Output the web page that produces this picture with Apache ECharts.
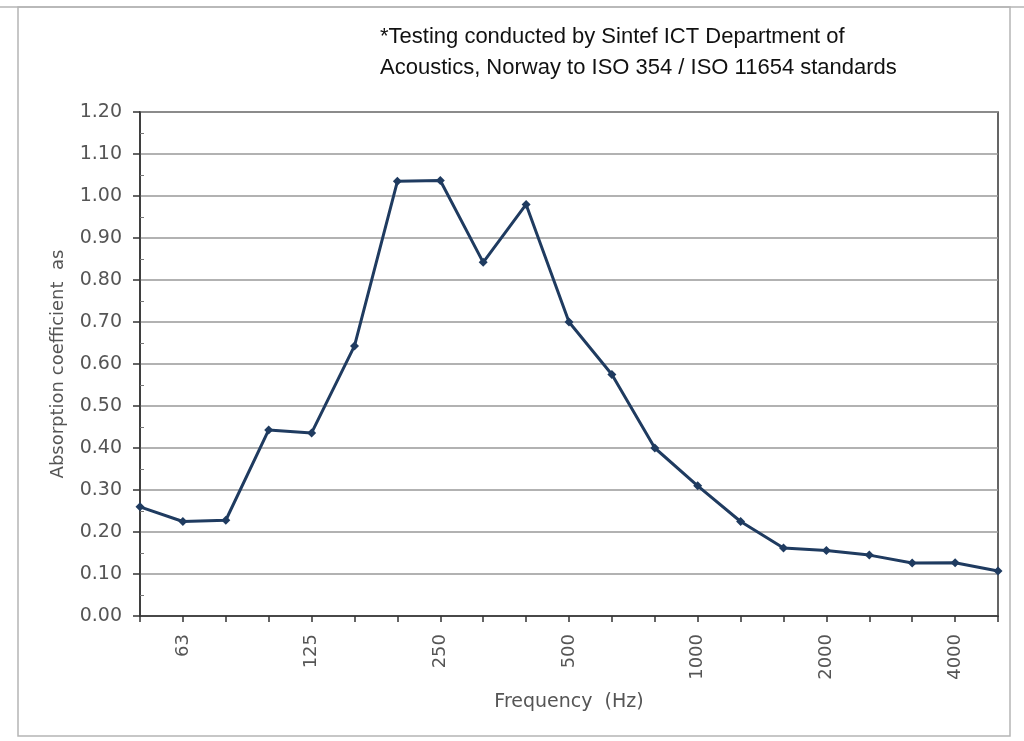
<!DOCTYPE html>
<html>
<head>
<meta charset="utf-8">
<script src="https://cdn.jsdelivr.net/npm/echarts@6/dist/echarts.min.js"></script>
<style>
  html, body { margin: 0; padding: 0; background: #fff; }
  #main { width: 1024px; height: 741px; }
</style>
</head>
<body>
<div id="main"></div>
<script>
// third-octave band centre frequencies (Hz)
var frequencies = ['50', '63', '80', '100', '125', '160', '200', '250', '315', '400', '500',
    '630', '800', '1000', '1250', '1600', '2000', '2500', '3150', '4000', '5000'];

// absorption coefficient
var absorption = [0.26, 0.225, 0.228, 0.443, 0.436, 0.643, 1.035, 1.037, 0.842, 0.98, 0.70,
    0.575, 0.40, 0.31, 0.225, 0.162, 0.156, 0.145, 0.126, 0.127, 0.107];

// which bands get a label on the axis
var shownLabels = ['63', '125', '250', '500', '1000', '2000', '4000'];

var noteLines = ['*Testing conducted by Sintef ICT Department of',
    'Acoustics, Norway to ISO 354 / ISO 11654 standards'];

var axisFont = '"DejaVu Sans", sans-serif';

var chart = echarts.init(document.getElementById('main'));

var option = {
    animation: false,
    textStyle: { fontFamily: axisFont },
    grid: {
        left: 140,
        right: 26,
        top: 112,
        bottom: 125,
        show: true,
        borderColor: '#333',
        borderWidth: 1.5
    },
    graphic: [
        {
            type: 'line',
            shape: { x1: 0, y1: 7, x2: 1024, y2: 7 },
            style: { stroke: '#b5b5b5', lineWidth: 1.5 },
            silent: true
        },
        {
            type: 'rect',
            shape: { x: 18, y: 7, width: 992, height: 729 },
            style: { fill: 'none', stroke: '#b5b5b5', lineWidth: 1.5 },
            silent: true
        },
        {
            type: 'text',
            left: 380,
            top: 21,
            style: {
                text: noteLines.join('\n'),
                font: '22px "Liberation Sans", Arial, sans-serif',
                fill: '#111',
                lineHeight: 31
            }
        }
    ],
    xAxis: {
        type: 'category',
        data: frequencies,
        boundaryGap: false,
        name: 'Frequency  (Hz)',
        nameLocation: 'middle',
        nameGap: 77,
        nameTextStyle: { fontSize: 19, color: '#555', fontFamily: axisFont },
        axisLine: { lineStyle: { color: '#333', width: 1.5 } },
        axisTick: { show: true, interval: 0, length: 6, lineStyle: { color: '#333', width: 1.5 } },
        axisLabel: {
            rotate: 90,
            fontSize: 18,
            color: '#555',
            margin: 18,
            interval: function (i, v) { return shownLabels.indexOf(v) >= 0; }
        },
        splitLine: { show: false }
    },
    yAxis: [
        {
            type: 'value',
            min: 0,
            max: 1.2,
            interval: 0.1,
            name: 'Absorption coefficient  as',
            nameLocation: 'middle',
            nameGap: 73,
            nameTextStyle: { fontSize: 18, color: '#555', fontFamily: axisFont },
            axisLine: { show: true, lineStyle: { color: '#333', width: 1.5 } },
            axisTick: { show: true, length: 7, lineStyle: { color: '#333', width: 1.5 } },
            axisLabel: {
                fontSize: 19,
                color: '#555',
                margin: 18,
                formatter: function (v) { return v.toFixed(2); }
            },
            splitLine: { show: true, lineStyle: { color: '#999', width: 1.5 } }
        },
        {
            // only the small inside minor ticks
            type: 'value',
            position: 'left',
            min: 0,
            max: 1.2,
            interval: 0.1,
            axisLine: { show: false },
            axisTick: { show: false, inside: true },
            minorTick: { show: true, splitNumber: 2, length: 4, lineStyle: { color: '#777' } },
            axisLabel: { show: false },
            splitLine: { show: false }
        }
    ],
    series: [{
        name: 'Absorption coefficient',
        type: 'line',
        data: absorption,
        symbol: 'diamond',
        symbolSize: 9,
        lineStyle: { color: '#1f3b60', width: 3 },
        itemStyle: { color: '#1f3b60' }
    }]
};

chart.setOption(option);
</script>
</body>
</html>
